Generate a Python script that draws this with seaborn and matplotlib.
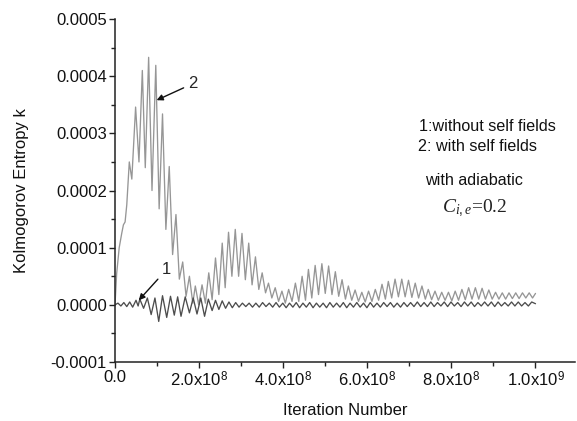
import numpy as np
import pandas as pd
import matplotlib
matplotlib.use("Agg")
import matplotlib.pyplot as plt
from matplotlib.ticker import MultipleLocator, FixedLocator, FixedFormatter
import seaborn as sns

# ---- data (x in units of 1e8 iterations, k in units of 1e-4) ----
k2_x = [
    0.00, 0.04, 0.10, 0.16, 0.20, 0.24, 0.28, 0.34,
    0.40, 0.49, 0.57, 0.65, 0.72, 0.80, 0.88, 0.97,
    1.05, 1.13, 1.21, 1.29, 1.37, 1.45, 1.53, 1.61,
    1.69, 1.77, 1.85, 1.91, 1.99, 2.07, 2.15, 2.23,
    2.31, 2.39, 2.47, 2.55, 2.62, 2.70, 2.78, 2.86,
    2.94, 3.02, 3.10, 3.18, 3.26, 3.34, 3.42, 3.50,
    3.58, 3.65, 3.73, 3.81, 3.89, 3.97, 4.05, 4.13,
    4.21, 4.29, 4.37, 4.45, 4.53, 4.60, 4.68, 4.76,
    4.84, 4.92, 5.00, 5.08, 5.16, 5.24, 5.32, 5.40,
    5.48, 5.55, 5.63, 5.71, 5.79, 5.87, 5.95, 6.03,
    6.11, 6.19, 6.27, 6.35, 6.43, 6.50, 6.58, 6.66,
    6.74, 6.82, 6.90, 6.98, 7.06, 7.14, 7.22, 7.30,
    7.38, 7.45, 7.53, 7.61, 7.69, 7.77, 7.85, 7.93,
    8.01, 8.09, 8.17, 8.25, 8.33, 8.41, 8.49, 8.57,
    8.65, 8.73, 8.81, 8.89, 8.97, 9.05, 9.13, 9.21,
    9.29, 9.37, 9.45, 9.53, 9.61, 9.69, 9.77, 9.85,
    9.93, 10.00]
k2_y = [
    0.00, 0.55, 1.00, 1.25, 1.40, 1.45, 1.75, 2.50,
    2.20, 3.46, 2.50, 4.10, 2.40, 4.33, 2.00, 4.19,
    1.68, 3.34, 1.32, 2.42, 0.88, 1.58, 0.45, 0.75,
    0.15, 0.50, 0.03, 0.33, 0.00, 0.35, 0.03, 0.56,
    0.09, 0.82, 0.18, 1.08, 0.30, 1.27, 0.50, 1.32,
    0.50, 1.25, 0.44, 1.08, 0.35, 0.84, 0.27, 0.56,
    0.21, 0.38, 0.12, 0.30, 0.06, 0.24, 0.03, 0.27,
    0.06, 0.38, 0.06, 0.50, 0.08, 0.62, 0.12, 0.69,
    0.18, 0.72, 0.20, 0.68, 0.18, 0.58, 0.15, 0.44,
    0.10, 0.33, 0.08, 0.26, 0.06, 0.22, 0.05, 0.24,
    0.06, 0.27, 0.08, 0.36, 0.10, 0.41, 0.12, 0.45,
    0.14, 0.45, 0.14, 0.43, 0.13, 0.38, 0.12, 0.33,
    0.10, 0.27, 0.09, 0.24, 0.08, 0.22, 0.08, 0.22,
    0.07, 0.24, 0.08, 0.27, 0.09, 0.30, 0.10, 0.30,
    0.10, 0.29, 0.10, 0.26, 0.10, 0.22, 0.10, 0.21,
    0.10, 0.21, 0.11, 0.21, 0.11, 0.21, 0.12, 0.21,
    0.12, 0.20]

k1_x = [
    0.00, 0.07, 0.14, 0.21, 0.28, 0.35, 0.42, 0.50,
    0.55, 0.59, 0.68, 0.77, 0.86, 0.95, 1.04, 1.13,
    1.23, 1.32, 1.41, 1.49, 1.57, 1.67, 1.77, 1.86,
    1.95, 2.04, 2.13, 2.22, 2.31, 2.39, 2.47, 2.55,
    2.63, 2.71, 2.79, 2.87, 2.95, 3.03, 3.11, 3.19,
    3.27, 3.35, 3.43, 3.51, 3.59, 3.67, 3.75, 3.83,
    3.91, 3.99, 4.07, 4.15, 4.23, 4.31, 4.39, 4.47,
    4.55, 4.63, 4.71, 4.79, 4.87, 4.95, 5.03, 5.11,
    5.19, 5.27, 5.35, 5.43, 5.51, 5.59, 5.67, 5.75,
    5.83, 5.91, 5.99, 6.07, 6.15, 6.23, 6.31, 6.39,
    6.47, 6.55, 6.63, 6.71, 6.79, 6.87, 6.95, 7.03,
    7.11, 7.19, 7.27, 7.35, 7.43, 7.51, 7.59, 7.67,
    7.75, 7.83, 7.91, 7.99, 8.07, 8.15, 8.23, 8.31,
    8.39, 8.47, 8.55, 8.63, 8.71, 8.79, 8.87, 8.95,
    9.03, 9.11, 9.19, 9.27, 9.35, 9.43, 9.51, 9.59,
    9.67, 9.75, 9.83, 9.91, 10.00]
k1_y = [
    0.00, 0.03, -0.02, 0.04, -0.03, 0.05, -0.04, 0.08,
    -0.02, 0.10, -0.06, 0.12, -0.17, 0.12, -0.29, 0.16,
    -0.22, 0.15, -0.18, 0.14, -0.20, 0.14, -0.14, 0.12,
    -0.16, 0.12, -0.20, 0.10, -0.10, 0.08, -0.08, 0.07,
    -0.06, 0.05, -0.05, 0.04, -0.04, 0.03, -0.03, 0.03,
    -0.04, 0.03, -0.04, 0.04, -0.03, 0.03, -0.04, 0.04,
    -0.04, 0.03, -0.05, 0.03, -0.04, 0.04, -0.05, 0.03,
    -0.04, 0.04, -0.05, 0.03, -0.04, 0.03, -0.05, 0.04,
    -0.04, 0.03, -0.04, 0.04, -0.05, 0.03, -0.04, 0.04,
    -0.04, 0.03, -0.05, 0.04, -0.04, 0.03, -0.04, 0.04,
    -0.03, 0.04, -0.04, 0.03, -0.04, 0.04, -0.03, 0.04,
    -0.03, 0.05, -0.03, 0.04, -0.03, 0.05, -0.03, 0.04,
    -0.02, 0.05, -0.03, 0.05, -0.02, 0.04, -0.03, 0.05,
    -0.02, 0.05, -0.03, 0.04, -0.02, 0.05, -0.02, 0.05,
    -0.03, 0.05, -0.02, 0.04, -0.02, 0.05, -0.02, 0.05,
    -0.02, 0.04, -0.02, 0.05, 0.02]

x_ticks = [0, 2e8, 4e8, 6e8, 8e8, 1e9]
x_ticklabels = ["0.0", "2.0x10$^{8}$", "4.0x10$^{8}$", "6.0x10$^{8}$",
                "8.0x10$^{8}$", "1.0x10$^{9}$"]
y_ticks = [-0.0001, 0.0, 0.0001, 0.0002, 0.0003, 0.0004, 0.0005]
y_ticklabels = ["-0.0001", "0.0000", "0.0001", "0.0002", "0.0003", "0.0004", "0.0005"]

df2 = pd.DataFrame({"iter": np.array(k2_x) * 1e8, "k": np.array(k2_y) * 1e-4})
df1 = pd.DataFrame({"iter": np.array(k1_x) * 1e8, "k": np.array(k1_y) * 1e-4})

sns.set_style("ticks")
plt.rcParams["font.family"] = ["Liberation Sans", "DejaVu Sans"]
plt.rcParams["mathtext.fontset"] = "custom"
plt.rcParams["mathtext.rm"] = "Liberation Sans"
plt.rcParams["mathtext.it"] = "Liberation Serif:italic"
plt.rcParams["axes.unicode_minus"] = False

fig = plt.figure(figsize=(5.77, 4.21), dpi=100)
ax = fig.add_axes([0.1993, 0.1401, 0.798, 0.8147])

sns.lineplot(data=df2, x="iter", y="k", ax=ax, color="#969696", lw=0.95)
sns.lineplot(data=df1, x="iter", y="k", ax=ax, color="#4d4d4d", lw=0.95)
for ln in ax.lines:
    ln.set_solid_joinstyle("round")

ax.set_xlim(0, 1.095e9)
ax.set_ylim(-0.0001, 0.0005)
ax.xaxis.set_major_locator(FixedLocator(x_ticks))
ax.xaxis.set_major_formatter(FixedFormatter(x_ticklabels))
ax.xaxis.set_minor_locator(MultipleLocator(1e8))
ax.yaxis.set_major_locator(FixedLocator(y_ticks))
ax.yaxis.set_major_formatter(FixedFormatter(y_ticklabels))
ax.yaxis.set_minor_locator(MultipleLocator(0.00005))

for s in ["top", "right"]:
    ax.spines[s].set_visible(False)
for s in ["left", "bottom"]:
    ax.spines[s].set_linewidth(1.1)
    ax.spines[s].set_color("#222222")

ax.tick_params(which="major", length=4.3, width=1.0, color="#222222",
               labelsize=12, pad=1.5, labelcolor="#111111")
ax.tick_params(which="minor", length=2.9, width=1.0, color="#222222")

ax.set_xlabel("Iteration Number", fontsize=12, color="#111111")
ax.set_ylabel("Kolmogorov Entropy k", fontsize=12, color="#111111")
ax.xaxis.set_label_coords(0.5, -0.12)
ax.yaxis.set_label_coords(-0.187, 0.5)

arrow = dict(arrowstyle="-|>", color="#111111", lw=1.0, mutation_scale=9,
             shrinkA=1, shrinkB=0)
ax.annotate("2", xy=(0.99e8, 3.58e-4), xytext=(1.74e8, 3.87e-4),
            fontsize=12, ha="left", va="center", arrowprops=arrow)
ax.annotate("1", xy=(0.565e8, 0.08e-4), xytext=(1.23e8, 0.62e-4),
            fontsize=12, ha="center", va="center", arrowprops=arrow)

fig.text(0.726, 0.690, "1:without self fields", fontsize=11.6, va="baseline", color="#111111")
fig.text(0.7245, 0.6413, "2: with self fields", fontsize=11.6, va="baseline", color="#111111")
fig.text(0.7366, 0.5606, "with adiabatic", fontsize=11.6, va="baseline", color="#111111")
fig.text(0.766, 0.4964, "$C_{i,e}$=0.2", fontsize=14, va="baseline",
         family=["Liberation Serif", "DejaVu Serif"], color="#222222")

fig.savefig("out.png", dpi=100)
